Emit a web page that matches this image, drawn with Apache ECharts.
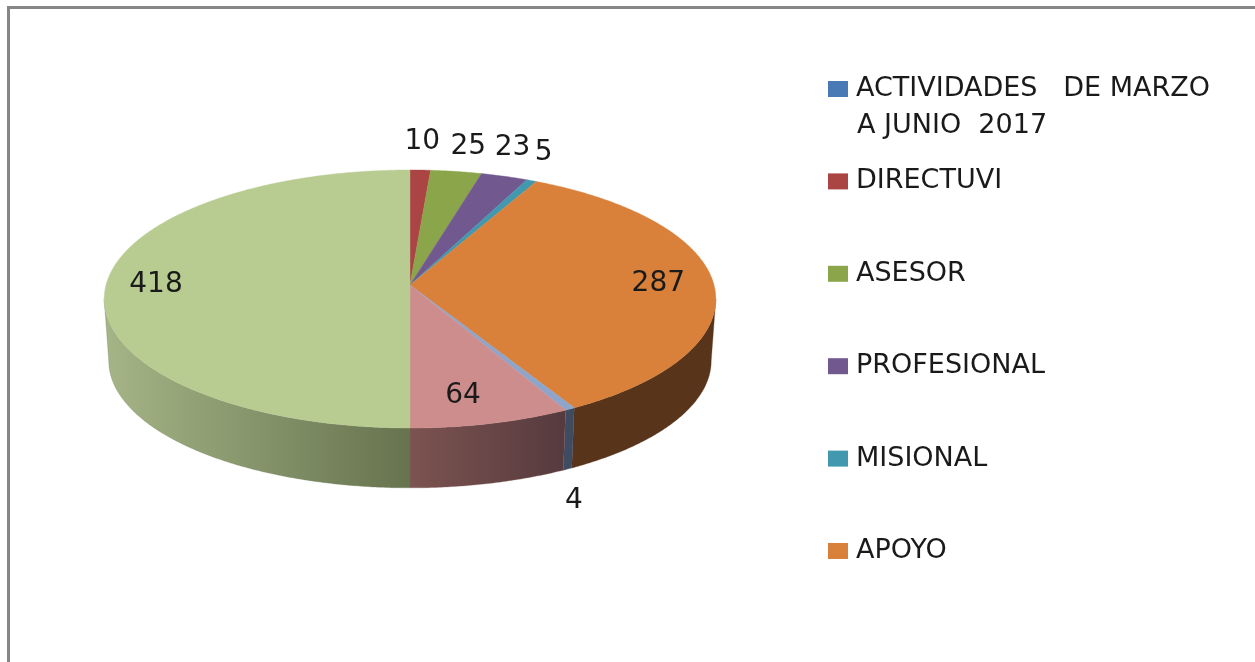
<!DOCTYPE html>
<html>
<head>
<meta charset="utf-8">
<style>html,body{margin:0;padding:0;background:#fff}#c{width:1255px;height:662px}</style>
<script src="https://cdn.jsdelivr.net/npm/echarts@6/dist/echarts.min.js"></script>
</head>
<body>
<div id="c"></div>
<script>
// ---- data ----
const sliceValues = [0,10,25,23,5,287,4,64,418];
const sliceNames = ['ACTIVIDADES   DE MARZO\nA JUNIO  2017','DIRECTUVI','ASESOR','PROFESIONAL','MISIONAL','APOYO','OTRO 1','OTRO 2','OTRO 3'];
const legendNames = sliceNames.slice(0,6);

// ---- styling ----
const topColors = ['#4a7ab5','#ab4544','#8aa54a','#71588f','#4198af','#d9803a','#8ea5cb','#ce8d8d','#b8cc92'];
const wallStops = [
  ['#2c4a6e','#2c4a6e'],['#672a29','#672a29'],['#53632c','#53632c'],['#443556','#443556'],
  ['#275b69','#275b69'],['#58341a','#58341a'],['#3f4b60','#3f4b60'],['#7c5350','#563a3e'],['#a5b586','#66734f']
];
const labelOffsets = [null,[2,-28],[12,-25],[8,-29],[12,-28],[-55,1],[4,92],[-28,-28],[50,0]];

// ---- pie geometry: a circle in perspective ----
const CX=410, CY=285, RX=304, RY=127.5, K=0.1085, WALL=62, SHRINK=0.985;
const TEXT='#1a1a1a', FONT='"DejaVu Sans"';
const total = sliceValues.reduce((a,b)=>a+b,0);
function rim(theta,bottom){
  const d=1+K*Math.cos(theta);
  const x=RX*Math.sin(theta)/d, y=-RY*Math.cos(theta)/d;
  return bottom ? [CX+x*SHRINK, CY+y*SHRINK+WALL] : [CX+x, CY+y];
}
const wallFrom=Math.acos(-K), wallTo=2*Math.PI-wallFrom;
function sample(a,b){
  const n=Math.max(2,Math.ceil((b-a)/0.008)), out=[];
  for(let i=0;i<=n;i++) out.push(a+(b-a)*i/n);
  return out;
}
let acc=0;
const seriesList = sliceValues.map((v,i)=>{
  const a=acc/total*2*Math.PI; acc+=v; const b=acc/total*2*Math.PI;
  return {
    type:'custom', name:sliceNames[i], coordinateSystem:'none',
    itemStyle:{color:topColors[i]}, silent:true, animation:false,
    data:[[v]],
    renderItem:function(){
      const children=[];
      if(v>0){
        const wa=Math.max(a,wallFrom), wb=Math.min(b,wallTo);
        if(wb>wa){
          const ts=sample(wa,wb);
          const pts=ts.map(t=>rim(t,false)).concat(ts.slice().reverse().map(t=>rim(t,true)));
          const s=wallStops[i];
          const isLeft=a>=Math.PI-0.01;
          children.push({type:'polygon',shape:{points:pts},style:{
            fill:new echarts.graphic.LinearGradient(0,0,1,0,[{offset:0,color:s[0]},{offset:1,color:s[1]}]),
            stroke:isLeft?s[1]:s[0],lineWidth:0.3}});
        }
        const pts=[[CX,CY]].concat(sample(a,b).map(t=>rim(t,false)));
        children.push({type:'polygon',shape:{points:pts},style:{fill:topColors[i],stroke:topColors[i],lineWidth:0.4}});
        const p=rim((a+b)/2,false), o=labelOffsets[i];
        children.push({type:'text',z2:10,style:{text:String(v),x:p[0]+o[0],y:p[1]+o[1],align:'center',verticalAlign:'middle',
          fill:TEXT,font:'28px '+FONT}});
      }
      return {type:'group',children:children};
    }
  };
});

const chart=echarts.init(document.getElementById('c'),null,{renderer:'canvas'});
chart.setOption({
  backgroundColor:'#fff',
  animation:false,
  color:topColors,
  legend:{
    orient:'vertical',left:828,top:74,padding:0,
    icon:'rect',itemWidth:20,itemHeight:16,itemGap:62.4,
    data:legendNames.map(n=>({name:n})),
    selectedMode:false,
    formatter:n=>n.split('\n')[0],
    textStyle:{color:TEXT,fontFamily:'DejaVu Sans',fontSize:27,lineHeight:30,padding:[0,0,0,3]}
  },
  graphic:[
    {type:'rect',shape:{x:7,y:6,width:3,height:656},style:{fill:'#868686'},silent:true},
    {type:'rect',shape:{x:7,y:6,width:1248,height:3},style:{fill:'#868686'},silent:true},
    {type:'text',style:{text:sliceNames[0].split('\n')[1],x:857,y:126,verticalAlign:'middle',fill:TEXT,font:'27px '+FONT},silent:true}
  ],
  series:seriesList
});
</script>
</body>
</html>
